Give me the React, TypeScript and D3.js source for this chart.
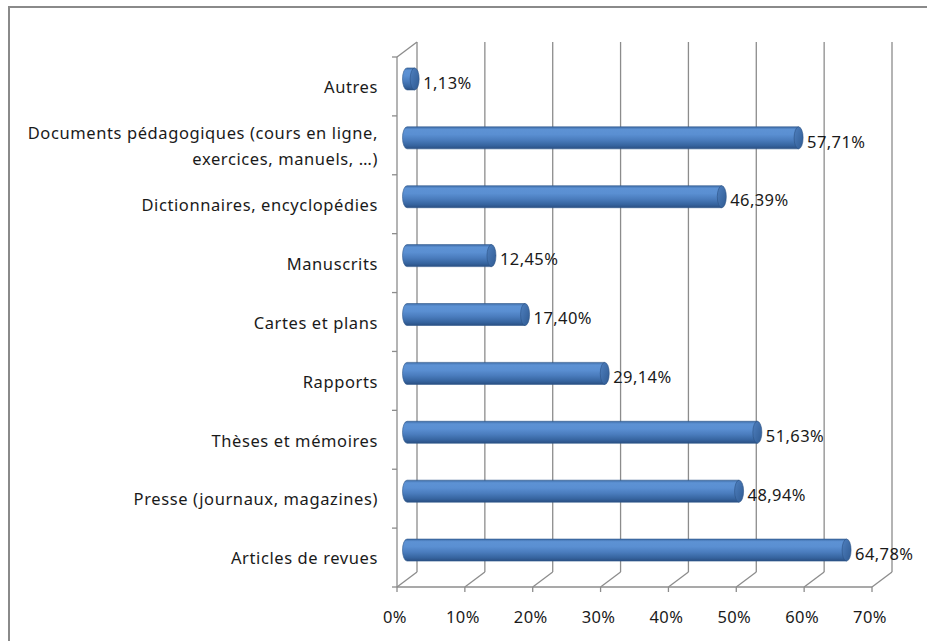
import React, { useRef, useEffect, useCallback } from 'react'
import * as d3 from 'd3'

const categories = [
  'Autres',
  'Documents pédagogiques (cours en ligne,|exercices, manuels, …)',
  'Dictionnaires, encyclopédies',
  'Manuscrits',
  'Cartes et plans',
  'Rapports',
  'Thèses et mémoires',
  'Presse (journaux, magazines)',
  'Articles de revues',
]
const values = [1.13, 57.71, 46.39, 12.45, 17.4, 29.14, 51.63, 48.94, 64.78]
const tickValues = [0, 10, 20, 30, 40, 50, 60, 70]

const W = 927
const H = 641
const FONT = '"Noto Sans", "Open Sans", sans-serif'
const FS = 16.5

const App = () => {
  const chartRef = useRef<HTMLDivElement | null>(null)

  const drawChart = useCallback(() => {
    if (!chartRef.current) return
    const svg = d3.select(chartRef.current)
      .append('svg')
      .attr('width', W)
      .attr('height', H)
      .style('position', 'absolute')
      .style('left', 0)
      .style('top', 0)
      .style('background', '#fff')

    // depth of the pseudo 3D walls
    const dx = 20
    const dy = -15

    const x = d3.scaleLinear().domain([0, 70]).range([397, 872])
    const y = d3.scaleBand<string>().domain(categories).range([57, 587])
    const bottom = 587
    const top = 57

    const defs = svg.append('defs')
    const grad = defs.append('linearGradient')
      .attr('id', 'barGrad')
      .attr('x1', 0).attr('y1', 0).attr('x2', 0).attr('y2', 1)
    const stops: [number, string][] = [
      [0, '#3f6da8'], [0.12, '#5d92d4'], [0.35, '#5a8fd2'],
      [0.6, '#4a7cbd'], [0.85, '#36649f'], [1, '#2a4f82'],
    ]
    stops.forEach(([o, c]) => grad.append('stop').attr('offset', o).attr('stop-color', c))
    const capGrad = defs.append('linearGradient')
      .attr('id', 'capGrad')
      .attr('x1', 0).attr('y1', 0).attr('x2', 1).attr('y2', 1)
    capGrad.append('stop').attr('offset', 0).attr('stop-color', '#4f80bf')
    capGrad.append('stop').attr('offset', 1).attr('stop-color', '#2f5a92')

    // frame
    svg.append('rect')
      .attr('x', 9).attr('y', 7)
      .attr('width', W).attr('height', H)
      .attr('fill', 'none')
      .attr('stroke', '#8a8a8a')
      .attr('stroke-width', 2)

    const wall = '#8c8c8c'
    const grid = svg.append('g')
      .attr('stroke', wall)
      .attr('stroke-width', 1.3)
      .attr('fill', 'none')

    // back wall gridlines
    tickValues.forEach(t => {
      grid.append('line')
        .attr('x1', x(t) + dx).attr('x2', x(t) + dx)
        .attr('y1', top + dy).attr('y2', bottom + dy)
      // floor diagonals
      grid.append('line')
        .attr('x1', x(t)).attr('y1', bottom)
        .attr('x2', x(t) + dx).attr('y2', bottom + dy)
      // ticks below
      grid.append('line')
        .attr('x1', x(t)).attr('x2', x(t))
        .attr('y1', bottom).attr('y2', bottom + 5)
    })

    // side wall + floor front edge
    grid.append('line')
      .attr('x1', x(0)).attr('x2', x(0))
      .attr('y1', top).attr('y2', bottom)
    grid.append('line')
      .attr('x1', x(0)).attr('y1', top)
      .attr('x2', x(0) + dx).attr('y2', top + dy)
    grid.append('line')
      .attr('x1', x(0)).attr('x2', x(70))
      .attr('y1', bottom).attr('y2', bottom)

    // left axis ticks
    const bounds = categories.map(c => y(c) as number).concat([bottom])
    bounds.forEach(b => {
      grid.append('line')
        .attr('x1', x(0) - 5).attr('x2', x(0))
        .attr('y1', b).attr('y2', b)
    })

    // bars as cylinders
    const bh = 22
    const rx = 4.5
    const bars = svg.append('g')
    categories.forEach((c, i) => {
      const cy = (y(c) as number) + y.bandwidth() / 2 + dy / 2
      const x0 = x(0) + dx / 2
      const x1 = x(values[i]) + dx / 2
      const y0 = cy - bh / 2
      const y1 = cy + bh / 2
      bars.append('path')
        .attr('d', `M${x0},${y0} L${x1},${y0} L${x1},${y1} L${x0},${y1} A${rx},${bh / 2} 0 0 1 ${x0},${y0} Z`)
        .attr('fill', 'url(#barGrad)')
        .attr('stroke', '#2e578c')
        .attr('stroke-width', 0.6)
      bars.append('ellipse')
        .attr('cx', x1).attr('cy', cy)
        .attr('rx', rx).attr('ry', bh / 2)
        .attr('fill', 'url(#capGrad)')
        .attr('stroke', '#2b5285')
        .attr('stroke-width', 0.6)

      bars.append('text')
        .attr('x', x1 + rx + 4)
        .attr('y', cy + 4)
        .attr('dy', '0.35em')
        .attr('font-family', FONT)
        .attr('font-size', FS)
        .attr('letter-spacing', 0.4)
        .attr('fill', '#1a1a1a')
        .text(d3.format('.2f')(values[i]).replace('.', ',') + '%')
    })

    // category labels
    const labels = svg.append('g')
      .attr('font-family', FONT)
      .attr('font-size', FS)
      .attr('letter-spacing', 0.6)
      .attr('fill', '#1a1a1a')
      .attr('text-anchor', 'end')
    categories.forEach(c => {
      const lines = c.split('|')
      const cy = (y(c) as number) + y.bandwidth() / 2
      lines.forEach((l, j) => {
        labels.append('text')
          .attr('x', 378)
          .attr('y', cy + 1 + (j - (lines.length - 1) / 2) * 26)
          .attr('dy', '0.35em')
          .text(l)
      })
    })

    // bottom tick labels
    const tl = svg.append('g')
      .attr('font-family', FONT)
      .attr('font-size', FS)
      .attr('letter-spacing', 0.4)
      .attr('fill', '#1a1a1a')
      .attr('text-anchor', 'middle')
    tickValues.forEach(t => {
      tl.append('text')
        .attr('x', x(t) - 2)
        .attr('y', 617)
        .attr('dy', '0.35em')
        .text(`${t}%`)
    })
  }, [])

  const destroyChart = useCallback(() => {
    if (chartRef.current) d3.select(chartRef.current).select('svg').remove()
  }, [])

  useEffect(() => {
    drawChart()
    return () => destroyChart()
  }, [drawChart, destroyChart])

  return <div ref={chartRef} style={{ width: W, height: H }}></div>
}

export default App
